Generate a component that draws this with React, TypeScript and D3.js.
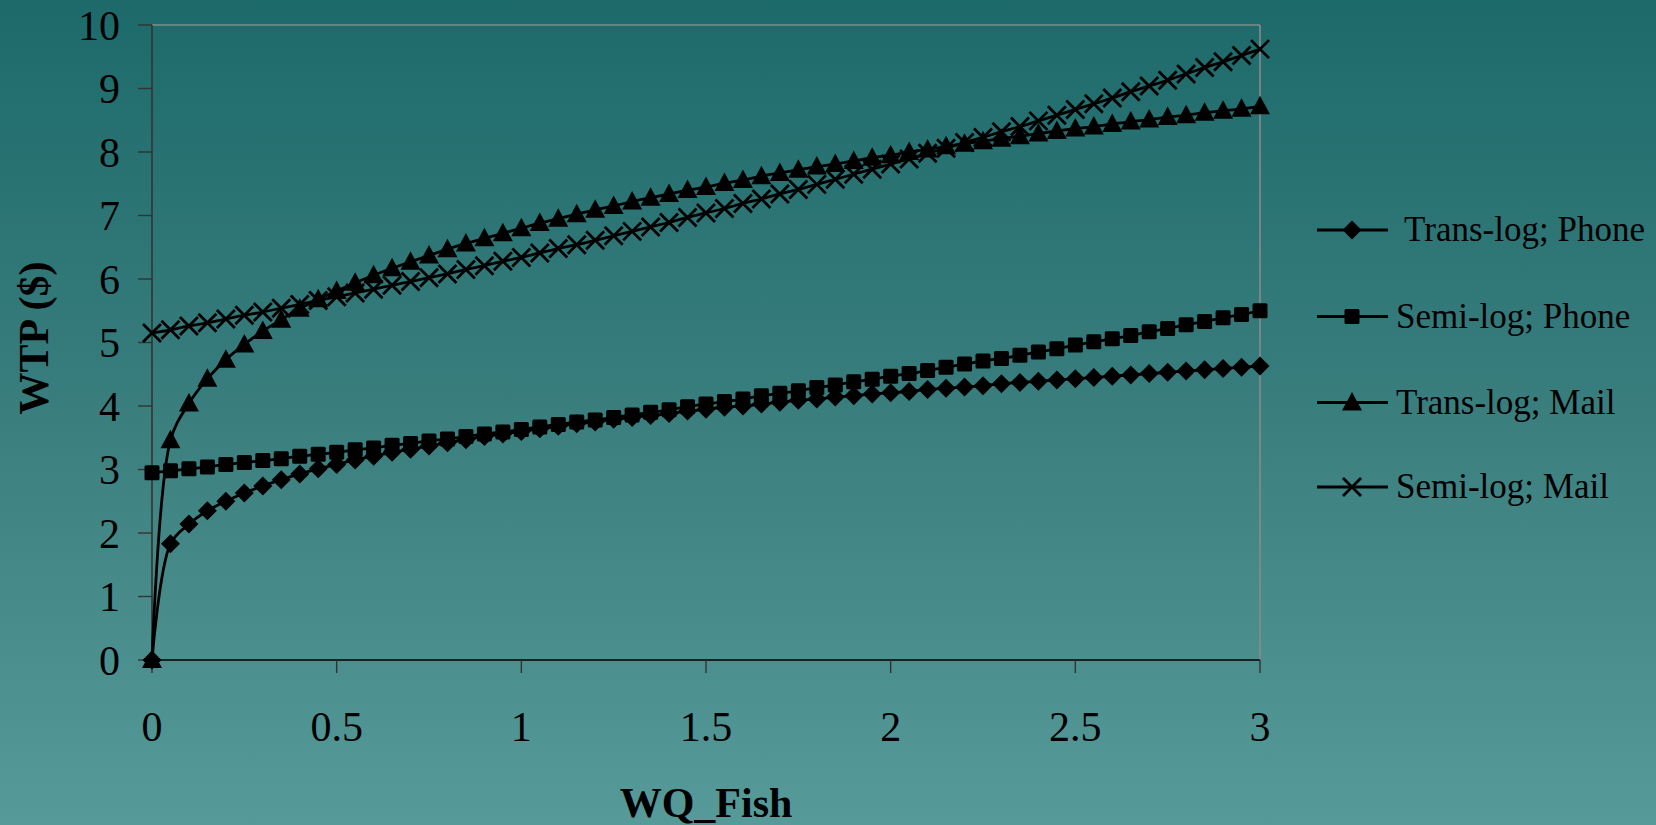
import React from "react";
import * as d3 from "d3";

const xValues = [0, 0.05, 0.1, 0.15, 0.2, 0.25, 0.3, 0.35, 0.4, 0.45, 0.5, 0.55, 0.6, 0.65, 0.7, 0.75, 0.8, 0.85, 0.9, 0.95, 1, 1.05, 1.1, 1.15, 1.2, 1.25, 1.3, 1.35, 1.4, 1.45, 1.5, 1.55, 1.6, 1.65, 1.7, 1.75, 1.8, 1.85, 1.9, 1.95, 2, 2.05, 2.1, 2.15, 2.2, 2.25, 2.3, 2.35, 2.4, 2.45, 2.5, 2.55, 2.6, 2.65, 2.7, 2.75, 2.8, 2.85, 2.9, 2.95, 3];

const transLogPhone = [0, 1.83, 2.14, 2.35, 2.5, 2.63, 2.74, 2.84, 2.93, 3.01, 3.08, 3.15, 3.21, 3.27, 3.32, 3.37, 3.42, 3.47, 3.52, 3.56, 3.6, 3.64, 3.68, 3.72, 3.75, 3.79, 3.82, 3.85, 3.88, 3.92, 3.95, 3.98, 4.0, 4.03, 4.06, 4.09, 4.11, 4.14, 4.16, 4.19, 4.21, 4.23, 4.26, 4.28, 4.3, 4.32, 4.35, 4.37, 4.39, 4.41, 4.43, 4.45, 4.47, 4.49, 4.51, 4.53, 4.55, 4.57, 4.59, 4.61, 4.63];

const semiLogPhone = [2.95, 2.98, 3.01, 3.04, 3.08, 3.11, 3.14, 3.17, 3.21, 3.24, 3.27, 3.31, 3.34, 3.38, 3.41, 3.45, 3.48, 3.52, 3.56, 3.59, 3.63, 3.67, 3.71, 3.75, 3.78, 3.82, 3.86, 3.9, 3.94, 3.99, 4.03, 4.07, 4.11, 4.16, 4.2, 4.24, 4.29, 4.33, 4.38, 4.42, 4.47, 4.51, 4.56, 4.61, 4.66, 4.71, 4.75, 4.8, 4.85, 4.9, 4.96, 5.01, 5.06, 5.11, 5.17, 5.22, 5.28, 5.33, 5.39, 5.44, 5.5];

const transLogMail = [0, 3.46, 4.04, 4.43, 4.73, 4.97, 5.18, 5.36, 5.53, 5.68, 5.81, 5.94, 6.06, 6.17, 6.27, 6.37, 6.47, 6.56, 6.64, 6.72, 6.8, 6.88, 6.95, 7.02, 7.09, 7.15, 7.22, 7.28, 7.34, 7.4, 7.45, 7.51, 7.56, 7.62, 7.67, 7.72, 7.77, 7.81, 7.86, 7.91, 7.95, 8.0, 8.04, 8.09, 8.13, 8.17, 8.21, 8.25, 8.29, 8.33, 8.37, 8.4, 8.44, 8.48, 8.51, 8.55, 8.58, 8.62, 8.65, 8.68, 8.72];

const semiLogMail = [5.15, 5.2, 5.26, 5.31, 5.37, 5.43, 5.48, 5.54, 5.6, 5.66, 5.72, 5.78, 5.84, 5.9, 5.96, 6.02, 6.08, 6.15, 6.21, 6.28, 6.34, 6.41, 6.48, 6.54, 6.61, 6.68, 6.75, 6.82, 6.89, 6.97, 7.04, 7.11, 7.19, 7.26, 7.34, 7.41, 7.49, 7.57, 7.65, 7.73, 7.81, 7.89, 7.98, 8.06, 8.15, 8.23, 8.32, 8.4, 8.49, 8.58, 8.67, 8.76, 8.85, 8.95, 9.04, 9.13, 9.23, 9.33, 9.42, 9.52, 9.62];

const seriesNames = [" Trans-log; Phone", "Semi-log; Phone", "Trans-log; Mail", "Semi-log; Mail"];
const seriesMarkers = ["diamond", "square", "triangle", "cross"];
const seriesValues = [transLogPhone, semiLogPhone, transLogMail, semiLogMail];

const yTicks = [0, 1, 2, 3, 4, 5, 6, 7, 8, 9, 10];
const xTicks = [0, 0.5, 1, 1.5, 2, 2.5, 3];
const xTickLabels = ["0", "0.5", "1", "1.5", "2", "2.5", "3"];

const W = 1656;
const H = 825;
const plot = { left: 152, right: 1260, top: 25, bottom: 660 };
const FONT = "'Liberation Serif', 'Times New Roman', serif";

function Marker({ type, x, y }: { type: string; x: number; y: number }) {
  if (type === "diamond") {
    return <path d={`M${x},${y - 9.5}L${x + 9.5},${y}L${x},${y + 9.5}L${x - 9.5},${y}Z`} fill="#000" />;
  }
  if (type === "square") {
    return <rect x={x - 7.5} y={y - 7.5} width={15} height={15} rx={1.5} fill="#000" />;
  }
  if (type === "triangle") {
    return <path d={`M${x},${y - 10.5}L${x + 10},${y + 8}L${x - 10},${y + 8}Z`} fill="#000" />;
  }
  return (
    <path
      d={`M${x - 9},${y - 9}L${x + 9},${y + 9}M${x - 9},${y + 9}L${x + 9},${y - 9}`}
      stroke="#000"
      strokeWidth={2.8}
      fill="none"
    />
  );
}

export default function App() {
  const x = d3.scaleLinear().domain([0, 3]).range([plot.left, plot.right]);
  const y = d3.scaleLinear().domain([0, 10]).range([plot.bottom, plot.top]);
  const line = d3
    .line<number>()
    .x((_, i) => x(xValues[i]))
    .y((d) => y(d))
    .curve(d3.curveCatmullRom.alpha(0.5));

  const legendRows = [230, 316.5, 402.5, 487];

  return (
    <svg
      width={W}
      height={H}
      style={{ position: "absolute", left: 0, top: 0, display: "block" }}
      fontFamily={FONT}
    >
      <defs>
        <linearGradient id="bg" x1="0" y1="0" x2="0" y2="1">
          <stop offset="0%" stopColor="#1d6a6b" />
          <stop offset="50%" stopColor="#3a7e7e" />
          <stop offset="100%" stopColor="#579a9a" />
        </linearGradient>
      </defs>
      <rect x={0} y={0} width={W} height={H} fill="url(#bg)" />

      {/* plot frame */}
      <line x1={plot.left} x2={plot.right} y1={y(10)} y2={y(10)} stroke="#8a8a8a" strokeWidth={1.6} />
      <line x1={plot.right} x2={plot.right} y1={y(10)} y2={y(0)} stroke="#8a8a8a" strokeWidth={1.6} />

      {/* y axis */}
      <line x1={plot.left} x2={plot.left} y1={y(10)} y2={y(0)} stroke="#333" strokeWidth={1.6} />
      {yTicks.map((t) => (
        <g key={`y${t}`}>
          <line x1={plot.left - 14} x2={plot.left} y1={y(t)} y2={y(t)} stroke="#333" strokeWidth={1.4} />
          <text
            x={120}
            y={y(t) + 14.5}
            textAnchor="end"
            fontSize={42}
            fill="#000"
          >
            {t}
          </text>
        </g>
      ))}

      {/* x axis */}
      <line x1={plot.left} x2={plot.right} y1={y(0)} y2={y(0)} stroke="#000" strokeWidth={1.6} />
      {xTicks.map((t, i) => (
        <g key={`x${t}`}>
          <line x1={x(t)} x2={x(t)} y1={y(0)} y2={y(0) + 13} stroke="#333" strokeWidth={1.4} />
          <text x={x(t)} y={741} textAnchor="middle" fontSize={42} fill="#000">
            {xTickLabels[i]}
          </text>
        </g>
      ))}

      {/* series */}
      {seriesValues.map((vals, s) => (
        <g key={`s${s}`}>
          <path d={line(vals) || ""} fill="none" stroke="#000" strokeWidth={2.8} />
          {vals.map((v, i) => (
            <Marker key={i} type={seriesMarkers[s]} x={x(xValues[i])} y={y(v)} />
          ))}
        </g>
      ))}

      {/* axis titles */}
      <text
        transform={`translate(48, 338) rotate(-90)`}
        textAnchor="middle"
        fontSize={42}
        fontWeight="bold"
        fill="#000"
      >
        WTP ($)
      </text>
      <text x={706} y={817} textAnchor="middle" fontSize={42} fontWeight="bold" fill="#000">
        WQ_Fish
      </text>

      {/* legend */}
      {seriesNames.map((name, s) => (
        <g key={`l${s}`}>
          <line x1={1317} x2={1388} y1={legendRows[s]} y2={legendRows[s]} stroke="#000" strokeWidth={2.8} />
          <Marker type={seriesMarkers[s]} x={1352} y={legendRows[s]} />
          <text x={1396} y={legendRows[s] + 11} fontSize={35} fill="#000" style={{ whiteSpace: "pre" }}>
            {name}
          </text>
        </g>
      ))}
    </svg>
  );
}
